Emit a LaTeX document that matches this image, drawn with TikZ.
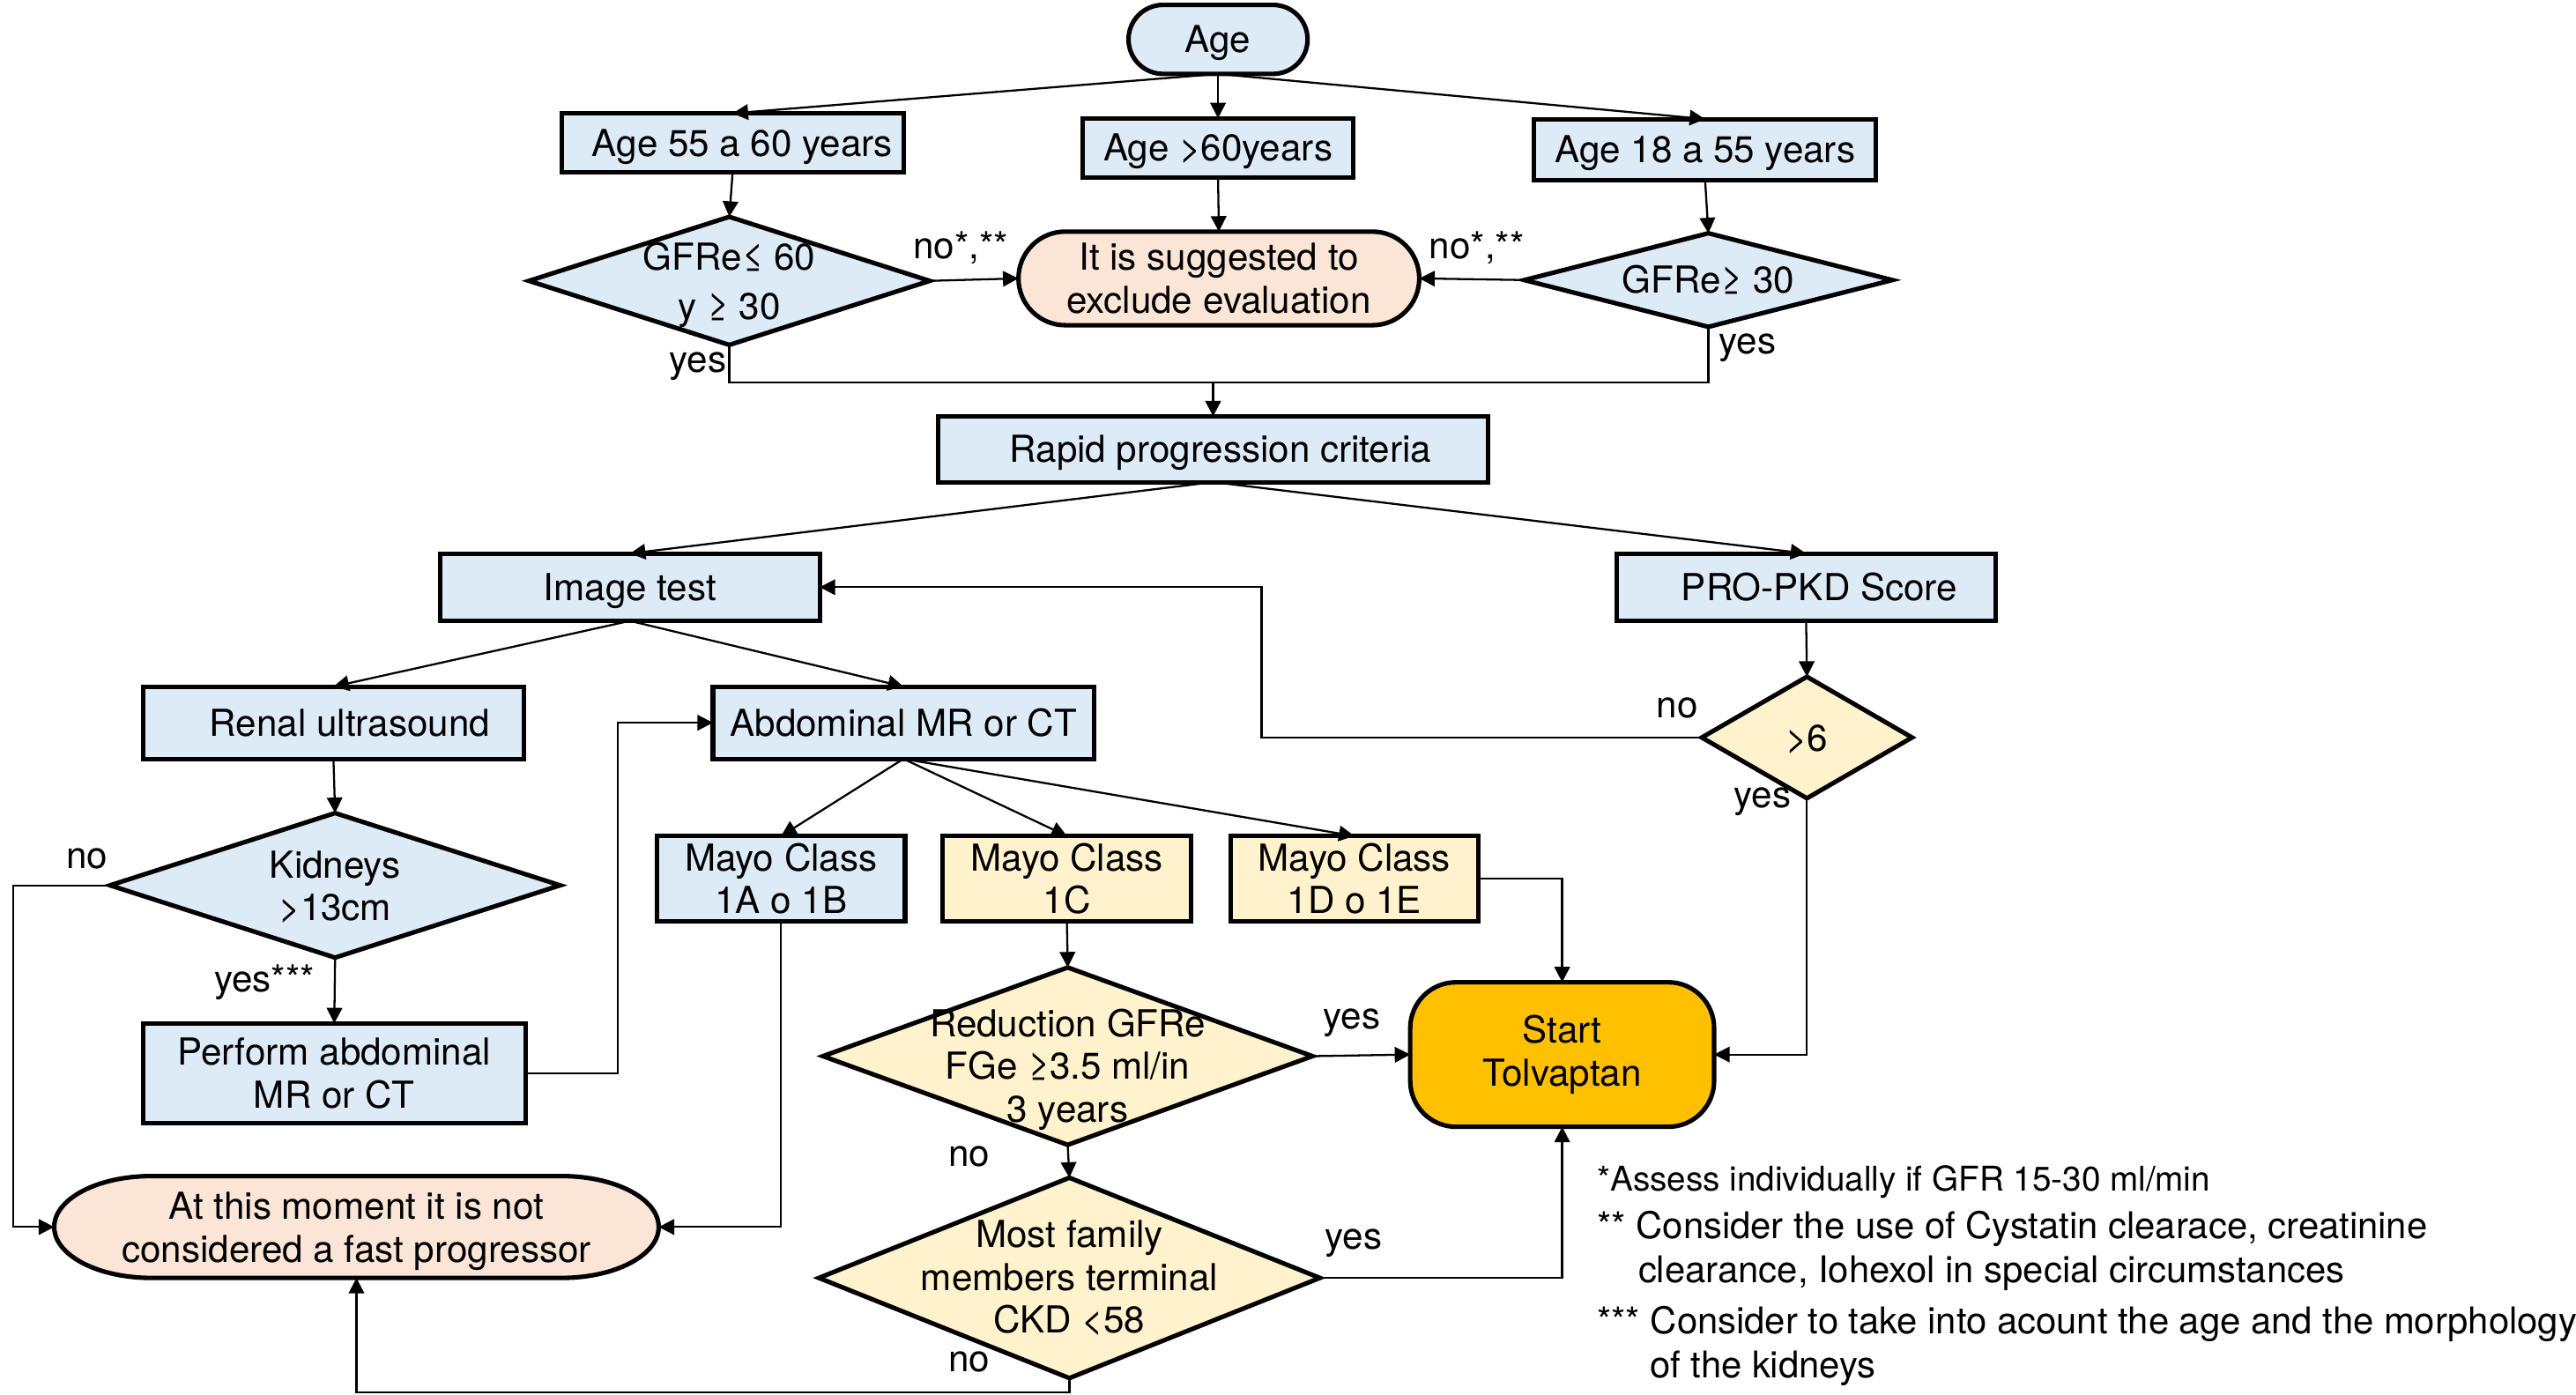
\documentclass[tikz,border=0pt]{standalone}
\usepackage{fontspec}
\setmainfont{TeX Gyre Heros}
\usetikzlibrary{arrows.meta,shapes.geometric,shapes.misc,calc}
\newcommand{\pxu}{0.01864cm}
\newcommand{\fsz}{\fontsize{12}{13.8}\selectfont}
\newcommand{\fnote}{\fontsize{11.9}{13.8}\selectfont}
\newcommand{\fnoteA}{\fontsize{11}{13.8}\selectfont}
\definecolor{cblue}{HTML}{DDEBF7}
\definecolor{cpeach}{HTML}{FBE5D6}
\definecolor{cyell}{HTML}{FFF2CC}
\definecolor{corange}{HTML}{FFC000}
\tikzset{
  shp/.style={draw, line width=1.45pt, font=\fsz, align=center, inner sep=0pt, outer sep=0pt},
  box/.style={shp, rectangle, fill=cblue},
  ybox/.style={shp, rectangle, fill=cyell},
  dia/.style={shp, diamond, fill=cblue},
  ydia/.style={shp, diamond, fill=cyell},
  stad/.style={shp, rounded rectangle, fill=cblue},
  wh/.style 2 args={minimum width={#1*\pxu}, minimum height={#2*\pxu}},
  one/.style={text height=8.6pt, text depth=0pt},
  conn/.style={line width=0.65pt, -{Triangle[length=5pt,width=5pt]}},
  plain/.style={line width=0.65pt},
  lbl/.style={font=\fsz, inner sep=0pt},
  dtext/.style={font=\fsz, inner sep=0pt, align=center},
  note/.style={font=\fnote, inner sep=0pt, anchor=base west}
}
\begin{document}
\begin{tikzpicture}[x=\pxu, y=\pxu]
\useasboundingbox (0,0) rectangle (1568.2,-848.8);
\fill[white] (0,0) rectangle (1568.2,-848.8);

% top row
\node[stad, one, wh={109}{42}] (age) at (741.5,-24) {Age};
\node[box, one, wh={208}{36}] (a55) at (446,-87) {\hspace*{0.22cm}Age 55 a 60 years};
\node[box, one, wh={165}{36}] (a60) at (741.5,-90) {Age >60years};
\node[box, one, wh={208}{37}] (a18) at (1038,-91) {Age 18 a 55 years};

\node[dia, wh={244}{78}] (d1) at (444,-171) {};
\node[dtext] (d1t) at (444,-173.5) {GFRe≤ 60\\[2.2pt]y ≥ 30};
\node[stad, fill=cpeach, wh={244}{57}] (excl) at (742,-169.5) {It is suggested to\\exclude evaluation};
\node[dia, wh={224}{57}] (d2) at (1040,-170.5) {};
\node[dtext, one] (d2t) at (d2.center) {GFRe≥ 30};

\node[box, one, wh={335}{40}] (rapid) at (738.5,-273.5) {\hspace*{0.17cm}Rapid progression criteria};
\node[box, one, wh={231}{41}] (img) at (383.5,-357.5) {Image test};
\node[box, one, wh={231}{41}] (pro) at (1099.5,-357.5) {\hspace*{0.3cm}PRO-PKD Score};

\node[box, one, wh={232}{44}] (renal) at (203,-440) {\hspace*{0.37cm}Renal ultrasound};
\node[box, one, wh={232}{44}] (abd) at (550,-440) {Abdominal MR or CT};
\node[ydia, wh={128}{74}] (gt6) at (1100,-449) {};
\node[dtext, one] (gt6t) at (gt6.center) {>6};

\node[dia, wh={274}{88}] (kid) at (204,-539) {};
\node[dtext] (kidt) at (204,-540) {Kidneys\\>13cm};
\node[box, wh={233}{61}] (perf) at (203.5,-653.5) {Perform abdominal\\MR or CT};

\node[box, wh={151}{52}] (m1a) at (475.5,-535) {Mayo Class\\1A o 1B};
\node[ybox, wh={151}{52}] (m1c) at (649.5,-535) {Mayo Class\\1C};
\node[ybox, wh={151}{52}] (m1d) at (824.5,-535) {Mayo Class\\1D o 1E};

\node[ydia, wh={298}{108}] (red) at (650,-643) {};
\node[dtext] (redt) at (650,-651) {Reduction GFRe\\FGe ≥3.5 ml/in\\3 years};
\node[shp, fill=corange, rounded corners=0.52cm, wh={185}{88}] (start) at (951,-642) {Start\\Tolvaptan};
\node[ydia, wh={305}{122}] (most) at (651,-778) {};
\node[dtext] (mostt) at (most.center) {Most family\\members terminal\\CKD <58};

% "at this moment" terminal with elongated ends
\draw[line width=1.45pt, fill=cpeach]
  (92,-716) -- (342,-716)
  arc[start angle=90, end angle=-90, x radius=59*\pxu, y radius=31*\pxu]
  -- (92,-778)
  arc[start angle=270, end angle=90, x radius=59*\pxu, y radius=31*\pxu]
  -- cycle;
\node[shp, draw=none, wh={368}{62}] (ntm) at (217,-747) {};
\node[dtext] (ntmt) at (217,-749.5) {At this moment it is not\\considered a fast progressor};

% connectors, top
\draw[conn] (age.south) -- (a55.north);
\draw[conn] (age.south) -- (a60.north);
\draw[conn] (age.south) -- (a18.north);
\draw[conn] (a55.south) -- (d1.north);
\draw[conn] (a60.south) -- (excl.north);
\draw[conn] (a18.south) -- (d2.north);
\draw[conn] (d1.east) -- (excl.west);
\draw[conn] (d2.west) -- (excl.east);
\coordinate (j1) at (738.5,-233);
\draw[plain] (d1.south) -- (d1.south |- j1) -- (d2.south |- j1) -- (d2.south);
\draw[conn] (j1) -- (rapid.north);

\draw[conn] (rapid.south) -- (img.north);
\draw[conn] (rapid.south) -- (pro.north);
\draw[conn] (img.south) -- (renal.north);
\draw[conn] (img.south) -- (abd.north);
\draw[conn] (pro.south) -- (gt6.north);
\draw[conn] (gt6.west) -- (768,-449) |- (img.east);
\draw[conn] (gt6.south) |- (start.east);

\draw[conn] (renal.south) -- (kid.north);
\draw[conn] (kid.south) -- (perf.north);
\draw[conn] (kid.west) -- (8,-539) |- (ntm.west);
\draw[conn] (perf.east) -- (376,-653.5) |- (abd.west);

\draw[conn] (abd.south) -- (m1a.north);
\draw[conn] (abd.south) -- (m1c.north);
\draw[conn] (abd.south) -- (m1d.north);
\draw[conn] (m1a.south) |- (ntm.east);
\draw[conn] (m1c.south) -- (red.north);
\draw[conn] (m1d.east) -| (start.north);
\draw[conn] (red.east) -- (start.west);
\draw[conn] (red.south) -- (most.north);
\draw[conn] (most.east) -| (start.south);
\draw[conn] (most.south) -- (651,-847.5) -| (ntm.south);

% labels
\node[lbl] (l1) at (585,-151) {no*,**};
\node[lbl] (l2) at (899,-151) {no*,**};
\node[lbl] (l3) at (425,-223) {yes};
\node[lbl] (l4) at (1064,-212) {yes};
\node[lbl] (l5) at (53,-523) {no};
\node[lbl] (l6) at (161,-598) {yes***};
\node[lbl] (l7) at (1021,-431) {no};
\node[lbl] (l8) at (1073,-488) {yes};
\node[lbl] (l9) at (823,-623) {yes};
\node[lbl] (l10) at (590,-704) {no};
\node[lbl] (l11) at (824,-757) {yes};
\node[lbl] (l12) at (590,-829) {no};

% footnotes
\node[note, font=\fnoteA] (n1) at (972,-725) {*Assess individually if GFR 15-30 ml/min};
\node[note] (n2) at (972,-754) {** Consider the use of Cystatin clearace, creatinine};
\node[note] (n3) at (997,-781) {clearance, Iohexol in special circumstances};
\node[note] (n4) at (972,-812) {*** Consider to take into acount the age and the morphology};
\node[note] (n5) at (1004,-839) {of the kidneys};
\end{tikzpicture}
\end{document}
